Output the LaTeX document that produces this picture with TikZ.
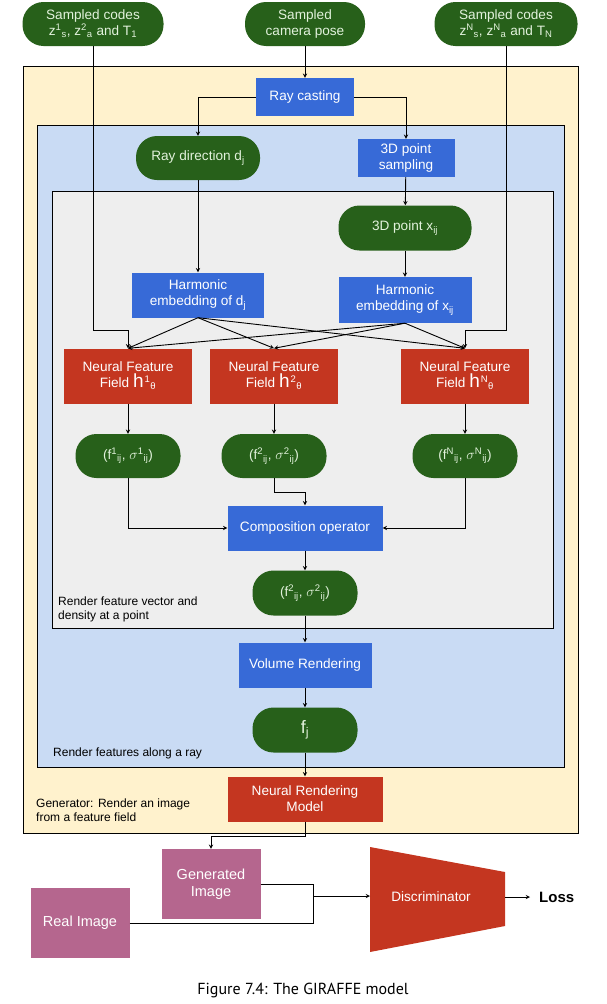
\documentclass[tikz,border=0pt]{standalone}
\usepackage{fontspec}
\setmainfont{Liberation Sans}
\newfontfamily\capfont{PT Sans}
\usepackage{xcolor}
\usepackage{tikz}
\definecolor{podgreen}{RGB}{39,96,26}
\definecolor{pilltext}{RGB}{226,242,220}
\definecolor{gblue}{RGB}{55,106,215}
\definecolor{gred}{RGB}{196,54,32}
\definecolor{gpink}{RGB}{181,102,142}
\definecolor{genyellow}{RGB}{255,242,205}
\definecolor{raysblue}{RGB}{201,219,244}
\definecolor{pointgrey}{RGB}{238,238,238}

\begin{document}
\begin{tikzpicture}[
			     x=1pt, y=-1pt,
			     >=stealth,
			     pill/.style={fill=podgreen, text=pilltext, rounded corners=21pt, minimum height=44pt, inner sep=1pt, align=center, font=\fontsize{13.6}{16}\selectfont},
			     bluebox/.style={fill=gblue, text=white, inner sep=1pt, align=center, font=\fontsize{13.6}{16}\selectfont},
			     redbox/.style={fill=gred, text=white, inner sep=1pt, align=center, font=\fontsize{13.6}{16}\selectfont},
			     imgbox/.style={fill=gpink, text=white, minimum width=99pt, minimum height=70pt, inner sep=1pt, align=center, font=\fontsize{14.5}{17.5}\selectfont},
			     frame/.style={draw=black, line width=1pt},
			     lbl/.style={anchor=west, align=left, inner sep=0pt, font=\fontsize{12}{14}\selectfont},
			     normal line/.style={->, line width=0.9pt}
			     ]
\useasboundingbox (0,0) rectangle (606,1004);
%
\draw[frame, fill=genyellow] (23,66) rectangle (578,833);
\draw[frame, fill=raysblue] (37,125) rectangle (564,767);
\draw[frame, fill=pointgrey] (52,191) rectangle (553,628);
%
\node[pill, minimum width=141pt] (top1) at (93,24) {Sampled codes\\z\textsuperscript{1}\textsubscript{s}, z\textsuperscript{2}\textsubscript{a} and T\textsubscript{1}};
\node[pill, minimum width=120pt] (cam) at (305,24) {Sampled\\camera pose};
\node[pill, minimum width=143pt] (topN) at (506,24) {Sampled codes\\z\textsuperscript{N}\textsubscript{s}, z\textsuperscript{N}\textsubscript{a} and T\textsubscript{N}};
%
\node[bluebox, minimum width=98pt, minimum height=38pt] (ray) at (305,97) {Ray casting};
\node[pill, minimum width=124pt] (raydir) at (198,158) {Ray direction d\textsubscript{j}};
\node[bluebox, minimum width=97pt, minimum height=38pt] (ptsamp) at (406,158) {3D point\\sampling};
\node[pill, minimum width=133pt, minimum height=45pt] (pt3d) at (405,228) {3D point x\textsubscript{ij}};
\node[bluebox, minimum width=132pt, minimum height=45pt] (harmd) at (198,295) {Harmonic\\embedding of d\textsubscript{j}};
\node[bluebox, minimum width=133pt, minimum height=46pt] (harmx) at (405,300) {Harmonic\\embedding of x\textsubscript{ij}};
%
\node[redbox, minimum width=128pt, minimum height=55pt] (nff1) at (128,376) {Neural Feature\\Field {\fontsize{19}{19}\selectfont h}\kern1pt\textsuperscript{1}\textsubscript{θ}};
\node[redbox, minimum width=128pt, minimum height=55pt] (nff2) at (274,376) {Neural Feature\\Field {\fontsize{19}{19}\selectfont h}\kern1pt\textsuperscript{2}\textsubscript{θ}};
\node[redbox, minimum width=128pt, minimum height=55pt] (nffN) at (465,376) {Neural Feature\\Field {\fontsize{19}{19}\selectfont h}\kern1pt\textsuperscript{N}\textsubscript{θ}};
%
\node[pill, minimum width=105pt] (f1) at (128,456) {(f\textsuperscript{1}\textsubscript{ij}, $\sigma$\textsuperscript{1}\textsubscript{ij})};
\node[pill, minimum width=105pt] (f2) at (274,456) {(f\textsuperscript{2}\textsubscript{ij}, $\sigma$\textsuperscript{2}\textsubscript{ij})};
\node[pill, minimum width=105pt] (fN) at (465,456) {(f\textsuperscript{N}\textsubscript{ij}, $\sigma$\textsuperscript{N}\textsubscript{ij})};
%
\node[bluebox, minimum width=155pt, minimum height=45pt] (comp) at (305,528) {Composition operator};
\node[pill, minimum width=105pt, minimum height=45pt] (res) at (305,593) {(f\textsuperscript{2}\textsubscript{ij}, $\sigma$\textsuperscript{2}\textsubscript{ij})};
\node[bluebox, minimum width=133pt, minimum height=45pt] (vol) at (305,665) {Volume Rendering};
\node[pill, minimum width=105pt, minimum height=45pt, font=\fontsize{18}{20}\selectfont] (fj) at (305,730) {f\textsubscript{j}};
\node[redbox, minimum width=155pt, minimum height=45pt] (nrm) at (305,799) {Neural Rendering\\Model};
%
\node[lbl] (pointlbl) at (58,609) {Render feature vector and\\density at a point};
\node[lbl] (raylbl) at (53,753) {Render features along a ray};
\node[lbl] (genlbl) at (36,810) {Generator: Render an image\\from a feature field};
%
\node[imgbox] (gen) at (211,884) {Generated\\Image};
\node[imgbox] (real) at (80,923) {Real Image};
\fill[gred] (370,847) -- (505,872) -- (505,926) -- (370,952) -- cycle;
\node[text=white, font=\fontsize{13.6}{16}\selectfont] (disc) at (431,897) {Discriminator};
\coordinate (discin) at (370,896);
\coordinate (discout) at (505,897);
\coordinate (lossin) at (530,897);
\node[font=\fontsize{15}{17}\selectfont\bfseries, anchor=west, inner sep=0pt] (loss) at (539,897) {Loss};
\node[font=\capfont\fontsize{16}{19}\selectfont] (caption) at (303,990) {Figure 7.4: The GIRAFFE model};
%
\coordinate (bendrow) at (0,330);
\coordinate (bendcomp) at (0,492);
\coordinate (bendgen) at (0,836);
\coordinate (join) at (313,896);
%
\path[normal line] (cam) edge (ray);
\draw[normal line] (ray.west) -| (raydir.north);
\draw[normal line] (ray.east) -| (ptsamp.north);
\path[normal line] (raydir) edge (harmd);
\path[normal line] (ptsamp) edge (pt3d);
\path[normal line] (pt3d) edge (harmx);
%
\draw[normal line] (top1.south) -- (top1.south |- bendrow) -| (nff1.north);
\draw[normal line] (topN.south) -- (topN.south |- bendrow) -| (nffN.north);
\foreach \nff in {nff1, nff2, nffN} {
  \path[normal line] (harmd.south) edge (\nff.north);
  \path[normal line] (harmx.south) edge (\nff.north);
}
%
\path[normal line] (nff1) edge (f1);
\path[normal line] (nff2) edge (f2);
\path[normal line] (nffN) edge (fN);
\draw[normal line] (f1.south) |- (comp.west);
\draw[normal line] (fN.south) |- (comp.east);
\draw[normal line] (f2.south) -- (f2.south |- bendcomp) -| (comp.north);
\path[normal line] (comp) edge (res);
\path[normal line] (res) edge (vol);
\path[normal line] (vol) edge (fj);
\path[normal line] (fj) edge (nrm);
%
\draw[normal line] (nrm.south) -- (nrm.south |- bendgen) -| (gen.north);
\draw[line width=0.9pt] (gen.east) -| (join);
\draw[line width=0.9pt] (real.east) -| (join);
\draw[normal line] (join) -- (discin);
\draw[normal line] (discout) -- (lossin);
\end{tikzpicture}
\end{document}
